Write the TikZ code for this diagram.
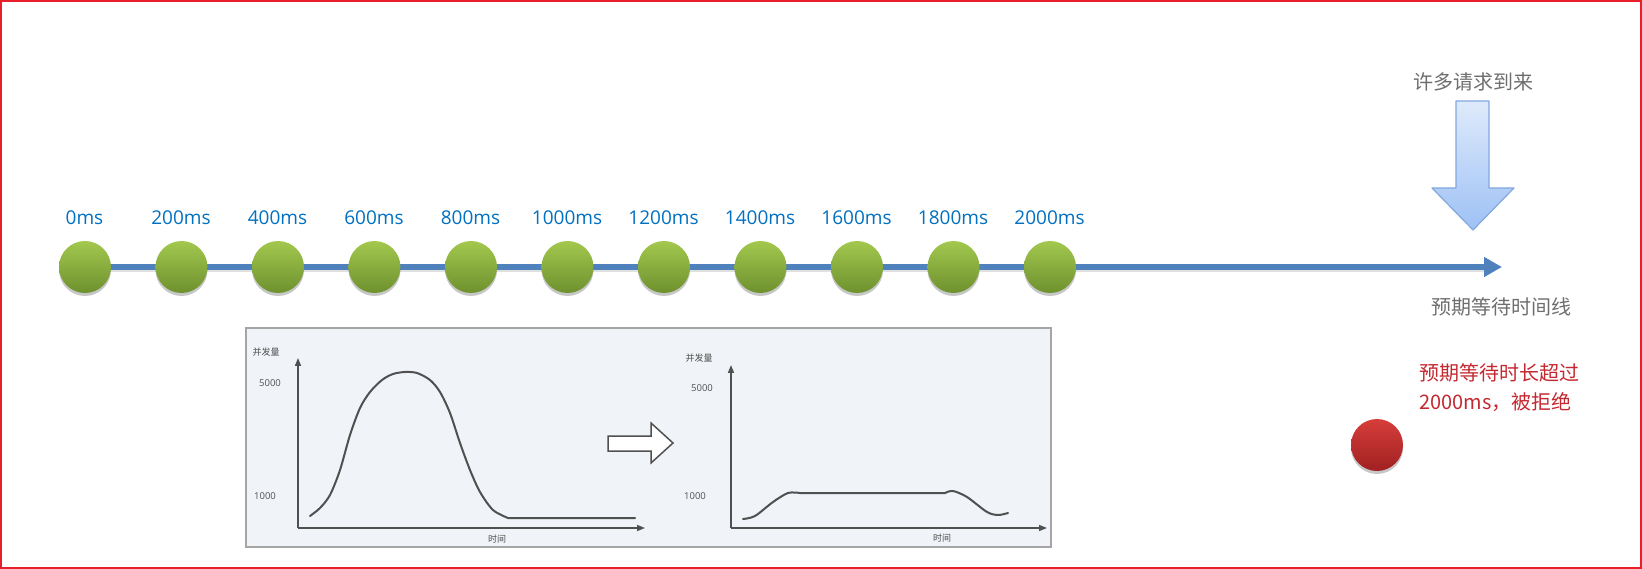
\documentclass[tikz,border=0pt]{standalone}
\usepackage{fontspec}
\setmainfont{Open Sans}
\newfontfamily\cjk{Noto Sans CJK SC}
\usetikzlibrary{arrows.meta,shadows}
\definecolor{frame}{RGB}{232,30,40}
\definecolor{tlblue}{RGB}{79,129,189}
\definecolor{lblblue}{RGB}{0,112,192}
\definecolor{gtop}{RGB}{162,200,78}
\definecolor{gbot}{RGB}{110,145,46}
\definecolor{rtop}{RGB}{214,62,58}
\definecolor{rbot}{RGB}{160,32,34}
\definecolor{rtext}{RGB}{196,40,48}
\definecolor{greytext}{RGB}{110,110,110}
\definecolor{atop}{RGB}{222,234,251}
\definecolor{abot}{RGB}{158,193,245}
\definecolor{aline}{RGB}{130,168,222}
\definecolor{chartbg}{RGB}{240,243,247}
\definecolor{chartframe}{RGB}{165,165,165}
\definecolor{chartink}{RGB}{80,80,80}
\tikzset{
  gdot/.style={circle, minimum size=52pt, inner sep=0pt, top color=gtop, bottom color=gbot,
    drop shadow={shadow xshift=0pt, shadow yshift=-3pt, opacity=0.22, fill=black}},
  rdot/.style={circle, minimum size=52pt, inner sep=0pt, top color=rtop, bottom color=rbot,
    drop shadow={shadow xshift=0pt, shadow yshift=-3pt, opacity=0.22, fill=black}},
  tlabel/.style={text=lblblue, font=\fontsize{19}{22}\selectfont, inner sep=0pt},
  timeline/.style={draw=tlblue, line width=6pt, -{Triangle[length=18pt,width=19pt]}},
  bigarrow/.style={top color=atop, bottom color=abot, draw=aline, line width=1.2pt, line join=round},
  greylabel/.style={text=greytext, font=\cjk\fontsize{20}{24}\selectfont, inner sep=0pt},
  redlabel/.style={text=rtext, font=\cjk\fontsize{20}{24}\selectfont, inner sep=0pt, anchor=west},
  chartbox/.style={fill=chartbg, draw=chartframe, line width=2pt},
  axis/.style={draw=chartink, line width=1.5pt, -{Triangle[length=8pt,width=6pt]}},
  curve/.style={draw=chartink, line width=2pt, line join=round, line cap=round},
  ctext/.style={text=chartink, font=\cjk\fontsize{9}{10}\selectfont, inner sep=0pt},
  hollow/.style={fill=white, draw=chartink, line width=1.5pt, line join=miter},
}
\begin{document}
\begin{tikzpicture}[x=1pt, y=-1pt]
\useasboundingbox (0,0) rectangle (1642,569);
\draw[frame, line width=2pt] (1,1) rectangle (1641,568);

% timeline
\coordinate (tlstart) at (85,267);
\coordinate (tlend) at (1502,267);
\draw[draw=black, opacity=0.12, line width=6pt] ([yshift=-2pt]tlstart) -- ([yshift=-2pt,xshift=-18pt]tlend);
\draw[timeline] (tlstart) -- (tlend);

\foreach \i/\lab in {0/0ms,1/200ms,2/400ms,3/600ms,4/800ms,5/1000ms,6/1200ms,7/1400ms,8/1600ms,9/1800ms,10/2000ms}{
  \node[gdot] (c\i) at ({85+96.5*\i},267) {};
  \node[tlabel] (t\i) at ({84.5+96.5*\i},218) {\lab};
}

% requests arrow
\node[greylabel] (req) at (1473,82) {许多请求到来};
\path[bigarrow] (1456,101) -- (1489,101) -- (1489,188) -- (1514,188) -- (1473,230) -- (1432,188) -- (1456,188) -- cycle;
\node[greylabel] (tlname) at (1501,307) {预期等待时间线};

% rejected
\node[redlabel] (rej1) at (1419,373) {预期等待时长超过};
\node[redlabel] (rej2) at (1419,402) {2000ms，被拒绝};
\node[rdot] (rd) at (1377,445) {};

% chart picture
\draw[chartbox] (246,328) rectangle (1051,547);
% left chart
\coordinate (lo) at (298,528);
\coordinate (ly) at (298,358);
\coordinate (lx) at (645,528);
\draw[axis] (lo) -- (ly);
\draw[axis] (lo) -- (lx);
\node[ctext] (lq) at (266,352) {并发量};
\node[ctext, font=\fontsize{9.5}{10}\selectfont] (l5) at (270,383) {5000};
\node[ctext, font=\fontsize{9.5}{10}\selectfont] (l1) at (265,496) {1000};
\node[ctext] (lt) at (497,539) {时间};
\draw[curve] plot[smooth, tension=0.5] coordinates {(310,516) (320,508) (330,495) (340,470) (350,435) (360,408) (370,392) (382,380) (393,374) (405,372) (417,373) (430,380) (440,392) (450,413) (460,443) (470,470) (480,492) (493,510) (508,518)} -- (635,518);

% transformation arrow
\path[hollow] (608,436) -- (651,436) -- (651,423) -- (673,443) -- (651,463) -- (651,451) -- (608,451) -- cycle;

% right chart
\coordinate (ro) at (731,528);
\coordinate (ry) at (731,365);
\coordinate (rx) at (1047,528);
\draw[axis] (ro) -- (ry);
\draw[axis] (ro) -- (rx);
\node[ctext] (rq) at (699,358) {并发量};
\node[ctext, font=\fontsize{9.5}{10}\selectfont] (r5) at (702,388) {5000};
\node[ctext, font=\fontsize{9.5}{10}\selectfont] (r1) at (695,496) {1000};
\node[ctext] (rt) at (942,538) {时间};
\draw[curve] plot[smooth, tension=0.5] coordinates {(743,519) (755,516) (773,502) (788,493) (800,493)} -- (945,493)
  plot[smooth, tension=0.5] coordinates {(945,493) (953,491) (967,497) (987,512) (998,515) (1008,513)};
\end{tikzpicture}
\end{document}
